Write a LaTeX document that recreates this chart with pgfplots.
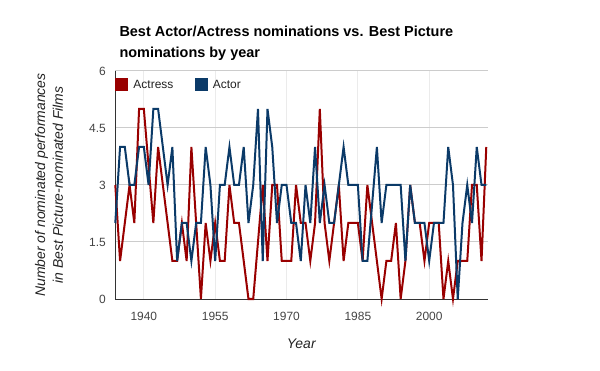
\documentclass[border=0pt]{standalone}
\usepackage{pgfplots}
\usepackage{pgfplotstable}
\pgfplotsset{compat=1.18}
\usepackage{fontspec}
\setmainfont{Liberation Sans}
\definecolor{actress}{HTML}{990000}
\definecolor{actor}{HTML}{0B3A68}
\definecolor{ticktext}{HTML}{444444}
\definecolor{titletext}{HTML}{222222}

\pgfplotstableread{
year val
1934 3
1935 1
1936 2
1937 3
1938 2
1939 5
1940 5
1942 2
1943 4
1944 3
1945 2
1946 1
1947 1
1948 2
1949 1
1950 4
1951 2
1952 0
1953 2
1954 1
1955 2
1956 1
1957 1
1958 3
1959 2
1960 2
1961 1
1962 0
1963 0
1965 3
1966 1
1967 3
1968 3
1969 1
1970 1
1971 1
1972 3
1973 2
1974 2
1975 1
1976 2
1977 5
1978 2
1979 1
1980 2
1981 3
1982 1
1983 2
1984 2
1985 2
1986 1
1987 3
1988 2
1989 1
1990 0
1991 1
1992 1
1993 2
1994 0
1995 1
1996 3
1997 2
1998 2
1999 1
2000 2
2001 2
2002 2
2003 0
2004 1
2005 0
2006 1
2007 1
2008 1
2009 3
2010 3
2011 1
2012 4
}\actresstab

\pgfplotstableread{
year val
1934 2
1935 4
1936 4
1937 3
1938 3
1939 4
1940 4
1941 3
1942 5
1943 5
1944 4
1945 3
1946 4
1947 1
1948 2
1949 2
1950 1
1951 2
1952 2
1953 4
1954 3
1955 1
1956 3
1957 3
1958 4
1959 3
1960 3
1961 4
1962 2
1963 3
1964 5
1965 1
1966 5
1967 4
1968 2
1969 3
1970 3
1971 2
1972 2
1973 1
1974 3
1975 2
1976 4
1977 2
1978 3
1979 2
1980 2
1981 3
1982 4
1983 3
1984 3
1985 3
1986 1
1987 1
1989 4
1990 2
1991 3
1992 3
1993 3
1994 3
1995 1
1996 3
1997 2
1998 2
1999 2
2000 1
2001 2
2002 2
2003 2
2004 4
2005 3
2006 0
2007 2
2008 3
2009 2
2010 4
2011 3
2012 3
}\actortab

\begin{document}
\begin{tikzpicture}
\useasboundingbox (-115.3bp,-72bp) rectangle (484.7bp,299bp);
\begin{axis}[
  at={(0bp,0bp)}, anchor=south west,
  scale only axis, width=372.4bp, height=228bp,
  xmin=1934, xmax=2012.3, ymin=0, ymax=6,
  xtick={1940,1955,1970,1985,2000},
  ytick={0,1.5,3,4.5,6},
  xmajorgrids, ymajorgrids,
  x grid style={draw=black!8, line width=1bp},
  y grid style={draw=black!20, line width=1bp},
  axis x line*=bottom, axis y line*=left,
  axis line style={draw=black!80, line width=1bp, -},
  major tick length=0pt,
  tick label style={font=\fontsize{12}{14}\selectfont, text=ticktext},
  xticklabel style={yshift=-10bp},
  yticklabel style={xshift=-6bp},
  /pgf/number format/assume math mode=true,
  /pgf/number format/1000 sep={},
  clip=false,
  legend style={at={(0,1)}, anchor=north west, draw=none, fill=none, inner sep=0pt, yshift=-7bp, font=\fontsize{12}{14}\selectfont, text=titletext, nodes={inner sep=0pt}},
  legend columns=2,
  legend image code/.code={\fill[#1] (0bp,-5.5bp) rectangle (11bp,5.5bp);},
  /tikz/every odd column/.append style={column sep=5bp},
  /tikz/every even column/.append style={column sep=21.5bp},
]
\addplot[actress, line width=2bp] table[x=year,y=val]{\actresstab};
\addlegendentry{Actress}
\addplot[actor, line width=2bp] table[x=year,y=val]{\actortab};
\addlegendentry{Actor}
\end{axis}
\node[anchor=base west, font=\bfseries\fontsize{14.5}{17}\selectfont] at (0.7bp,262.5bp) {Best Actor/Actress nominations vs. Best Picture};
\node[anchor=base west, font=\bfseries\fontsize{14.5}{17}\selectfont] at (0.7bp,241.5bp) {nominations by year};
\node[rotate=90, align=center, font=\itshape\fontsize{14}{18}\selectfont, text=titletext] at (-66.3bp,114bp) {Number of nominated performances\\in Best Picture-nominated Films};
\node[font=\itshape\fontsize{14}{16}\selectfont, text=titletext] at (186bp,-45bp) {Year};
\end{tikzpicture}
\end{document}
